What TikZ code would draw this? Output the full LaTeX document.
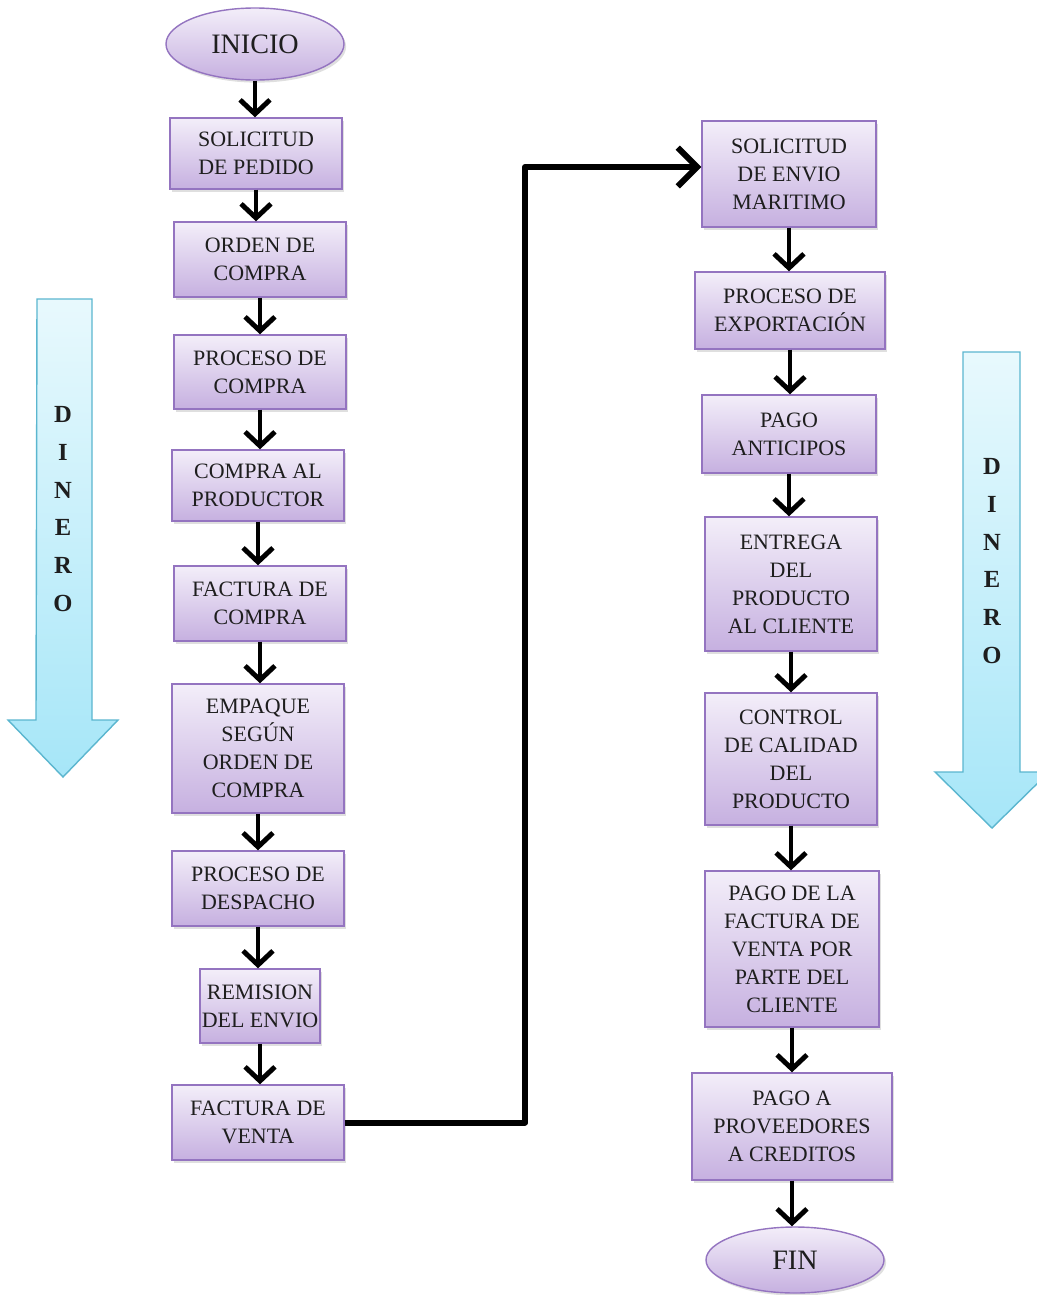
\documentclass[tikz,border=0pt]{standalone}
\usepackage{fontspec}
\setmainfont{Liberation Serif}
\usetikzlibrary{shapes.geometric,arrows.meta,shadows,shadings}
\definecolor{boxtop}{HTML}{F3EEF9}
\definecolor{boxbot}{HTML}{C6B0E0}
\definecolor{boxline}{HTML}{9474C0}
\definecolor{bluetop}{HTML}{E8F9FD}
\definecolor{bluebot}{HTML}{A6E6F8}
\definecolor{blueline}{HTML}{5BB6CF}
\definecolor{ink}{HTML}{1E1E1E}
\tikzset{
  box/.style={rectangle, draw=boxline, line width=0.8pt, top color=boxtop, bottom color=boxbot,
    align=center, inner sep=1pt, text=ink, font=\rmfamily\fontsize{12.5}{15.9}\selectfont,
    drop shadow={shadow xshift=1.2pt, shadow yshift=-1.5pt, opacity=0.25}},
  term/.style={ellipse, draw=boxline, line width=0.8pt, top color=boxtop, bottom color=boxbot,
    inner sep=0pt, text=ink, font=\rmfamily\fontsize{16}{18}\selectfont,
    drop shadow={shadow xshift=1.2pt, shadow yshift=-1.5pt, opacity=0.25}},
  flow/.style={line width=2.8pt, -{Straight Barb[length=8pt,width=17pt]}},
  bigflow/.style={line width=3.4pt, line join=round, -{Straight Barb[length=11pt,width=22pt]}},
  money/.style={draw=blueline, line width=0.8pt, top color=bluetop, bottom color=bluebot},
  moneytext/.style={align=center, text=ink, font=\rmfamily\fontsize{14}{21.5}\selectfont\bfseries}
}
\newcommand{\flowbox}[6]{\node[box, minimum width={(#4-#2)*0.02cm}, minimum height={(#5-#3)*0.02cm}] (#1) at ({(#2+#4)/2},{(#3+#5)/2}) {#6};}
\begin{document}
\begin{tikzpicture}[x=0.02cm,y=-0.02cm]
\useasboundingbox (0,0) rectangle (1037,1295);
\clip (0,0) rectangle (1037,1295);
% money arrows
\draw[money] (37,299) -- (92,299) -- (92,720) -- (118,720) -- (63,777) -- (8,720) -- (36,720) -- cycle;
\node[moneytext] (dl) at (63,509) {D\\I\\N\\E\\R\\O};
\draw[money] (963,352) -- (1020,352) -- (1020,772) -- (1049,772) -- (992,828) -- (935,772) -- (963,772) -- cycle;
\node[moneytext] (dr) at (992,561) {D\\I\\N\\E\\R\\O};
% terminals
\node[term, minimum width=178*0.02cm, minimum height=72*0.02cm] (ini) at (255,44) {INICIO};
\node[term, minimum width=178*0.02cm, minimum height=66*0.02cm] (fin) at (795,1260) {FIN};
% left column
\flowbox{sp}{170}{118}{342}{189}{SOLICITUD\\DE PEDIDO}
\flowbox{oc}{174}{222}{346}{297}{ORDEN DE\\COMPRA}
\flowbox{pc}{174}{335}{346}{409}{PROCESO DE\\COMPRA}
\flowbox{cp}{172}{450}{344}{521}{COMPRA AL\\PRODUCTOR}
\flowbox{fc}{174}{566}{346}{641}{FACTURA DE\\COMPRA}
\flowbox{em}{172}{684}{344}{813}{EMPAQUE\\SEGÚN\\ORDEN DE\\COMPRA}
\flowbox{pd}{172}{851}{344}{926}{PROCESO DE\\DESPACHO}
\flowbox{re}{202}{969}{318}{1043}{REMISION\\DEL ENVIO}
\flowbox{fv}{172}{1085}{344}{1160}{FACTURA DE\\VENTA}
% right column
\flowbox{se}{702}{121}{876}{227}{SOLICITUD\\DE ENVIO\\MARITIMO}
\flowbox{pe}{695}{272}{885}{349}{PROCESO DE\\EXPORTACIÓN}
\flowbox{pa}{702}{395}{876}{473}{PAGO\\ANTICIPOS}
\flowbox{ep}{705}{517}{877}{651}{ENTREGA\\DEL\\PRODUCTO\\AL CLIENTE}
\flowbox{cc}{705}{693}{877}{825}{CONTROL\\DE CALIDAD\\DEL\\PRODUCTO}
\flowbox{pf}{705}{871}{879}{1027}{PAGO DE LA\\FACTURA DE\\VENTA POR\\PARTE DEL\\CLIENTE}
\flowbox{pp}{692}{1073}{892}{1180}{PAGO A\\PROVEEDORES\\A CREDITOS}
% connectors
\foreach \a/\b in {ini/sp,sp/oc,oc/pc,pc/cp,cp/fc,fc/em,em/pd,pd/re,re/fv}
  \draw[flow] (\a.south) -- (\a.south |- \b.north);
\foreach \a/\b in {se/pe,pe/pa,pa/ep,ep/cc,cc/pf,pf/pp,pp/fin}
  \draw[flow] (\a.south) -- (\a.south |- \b.north);
% long connector
\coordinate (turn) at (525,167);
\draw[bigflow] (fv.east) -| (turn) -- (turn -| se.west);
\end{tikzpicture}
\end{document}
